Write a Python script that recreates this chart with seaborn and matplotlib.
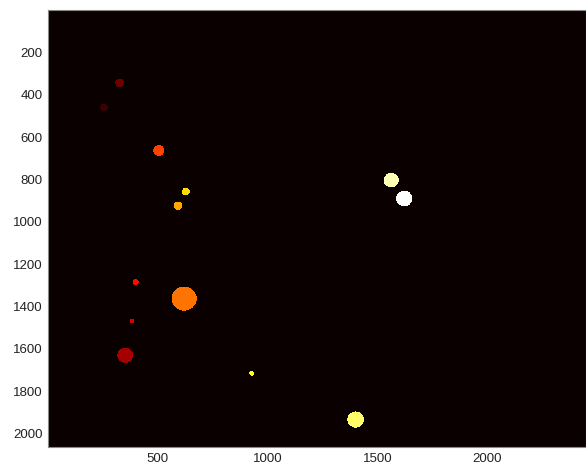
import numpy as np
import seaborn as sns
import matplotlib.pyplot as plt

# labelled blobs (image coords): centre column, centre row, radius, label
blob_x = [255, 327, 352, 382, 399, 505, 620, 592, 628, 927, 1400, 1562, 1621]
blob_y = [460, 344, 1630, 1468, 1284, 663, 1362, 924, 857, 1715, 1933, 803, 890]
blob_r = [18, 20, 36, 11, 14, 25, 57, 20, 18, 11, 38, 34, 37]
blob_label = [1, 2, 3, 4, 5, 6, 7, 8, 9, 10, 11, 12, 13]

n_rows, n_cols = 2062, 2448
x_ticks = [500, 1000, 1500, 2000]
y_ticks = [200, 400, 600, 800, 1000, 1200, 1400, 1600, 1800, 2000]

# build the label image
img = np.zeros((n_rows, n_cols))
yy, xx = np.ogrid[1:n_rows + 1, 1:n_cols + 1]
for cx, cy, r, lab in zip(blob_x, blob_y, blob_r, blob_label):
    mask = (xx - cx) ** 2 + (yy - cy) ** 2 <= r ** 2
    img[mask] = lab

sns.set_style("white")
plt.rcParams["font.family"] = ["Liberation Sans", "DejaVu Sans"]

fig = plt.figure(figsize=(5.86, 4.66), dpi=100)
ax = fig.add_axes([48 / 586, 19 / 466, 538 / 586, 437 / 466])
ax.imshow(img, cmap="hot", vmin=0, vmax=max(blob_label), aspect="auto",
          interpolation="nearest", extent=(0.5, n_cols + 0.5, n_rows + 0.5, 0.5))
ax.set_xticks(x_ticks)
ax.set_yticks(y_ticks)
ax.tick_params(direction="in", length=3, color="#404040", labelsize=9.5,
               labelcolor="#222222", pad=4)
for s in ax.spines.values():
    s.set_color("#888888")
    s.set_linewidth(0.8)

fig.savefig("out.png", dpi=100)
